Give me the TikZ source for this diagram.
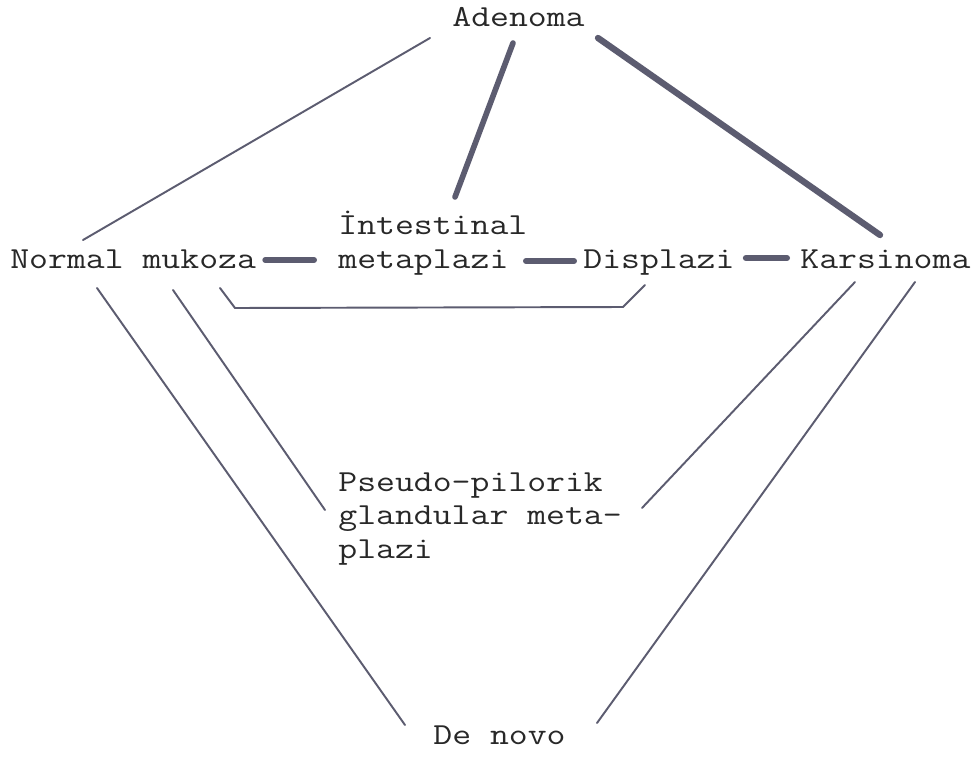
\documentclass[tikz,border=0pt]{standalone}
\usepackage{fontspec}
\setmonofont{Latin Modern Mono}[FakeStretch=1.2]
\usepackage{tikz}
\usetikzlibrary{positioning,calc}
\definecolor{inkline}{RGB}{92,92,112}
\definecolor{inktext}{RGB}{40,40,40}

\begin{document}
\begin{tikzpicture}[
    x=0.02cm,
    y=-0.02cm,
    font=\ttfamily\fontsize{17.4}{19}\selectfont,
    term/.style={
        inner sep=0pt,
        anchor=base west,
        align=left,
        text=inktext
    },
    link/.style={
        draw=inkline,
        line width=1.1pt,
        line cap=round
    },
    heavy/.style={
        draw=inkline,
        line width=3.2pt,
        line cap=round
    },
    bar/.style={
        draw=inkline,
        line width=3.4pt,
        line cap=round
    }
]
\useasboundingbox[fill=white] (0,0) rectangle (979,757);

% top
\node[term] (adenoma) at (452,27) {Adenoma};

% middle row (base of a two-line node = its last line)
\node[term] (normal) at (10,268) {Normal mukoza};
\node[term] (intest) at (338,268) {İntestinal\\metaplazi};
\node[term] (displ) at (583,268) {Displazi};
\node[term] (karsi) at (800,268) {Karsinoma};

% lower part
\node[term] (pseudo) at (338,558) {Pseudo-pilorik\\glandular meta-\\plazi};
\node[term] (denovo) at (433,744) {De novo};

% from adenoma
\draw[link] ([shift={(-22,11)}]adenoma.base west) -- ([shift={(73,-28)}]normal.base west);
\draw[heavy] ([shift={(61,16)}]adenoma.base west) -- ([shift={(117,-71)}]intest.base west);
\draw[heavy, line width=3.6pt] ([shift={(146,11)}]adenoma.base west) -- ([shift={(80,-33)}]karsi.base west);

% main sequence
\draw[bar] ([shift={(9,-8)}]normal.base east) -- ([shift={(-24,-8)}]intest.base west);
\draw[bar] ([shift={(188,-7)}]intest.base west) -- ([shift={(-9,-7)}]displ.base west);
\draw[bar] ([shift={(11,-10)}]displ.base east) -- ([shift={(-13,-10)}]karsi.base west);

% bracket under metaplazi
\draw[link] ([shift={(210,20)}]normal.base west) -- ++(15,20)
    -- ([shift={(40,39)}]displ.base west) -- ([shift={(62,17)}]displ.base west);

% down to pseudo-pilorik and de novo
\draw[link] ([shift={(87,20)}]normal.base west) -- ([shift={(-28,-19)}]denovo.base west);
\draw[link] ([shift={(163,22)}]normal.base west) -- ([shift={(-13,-48)}]pseudo.base west);
\draw[link] ([shift={(304,-50)}]pseudo.base west) -- ([shift={(55,14)}]karsi.base west);
\draw[link] ([shift={(115,14)}]karsi.base west) -- ([shift={(164,-21)}]denovo.base west);

\end{tikzpicture}
\end{document}
